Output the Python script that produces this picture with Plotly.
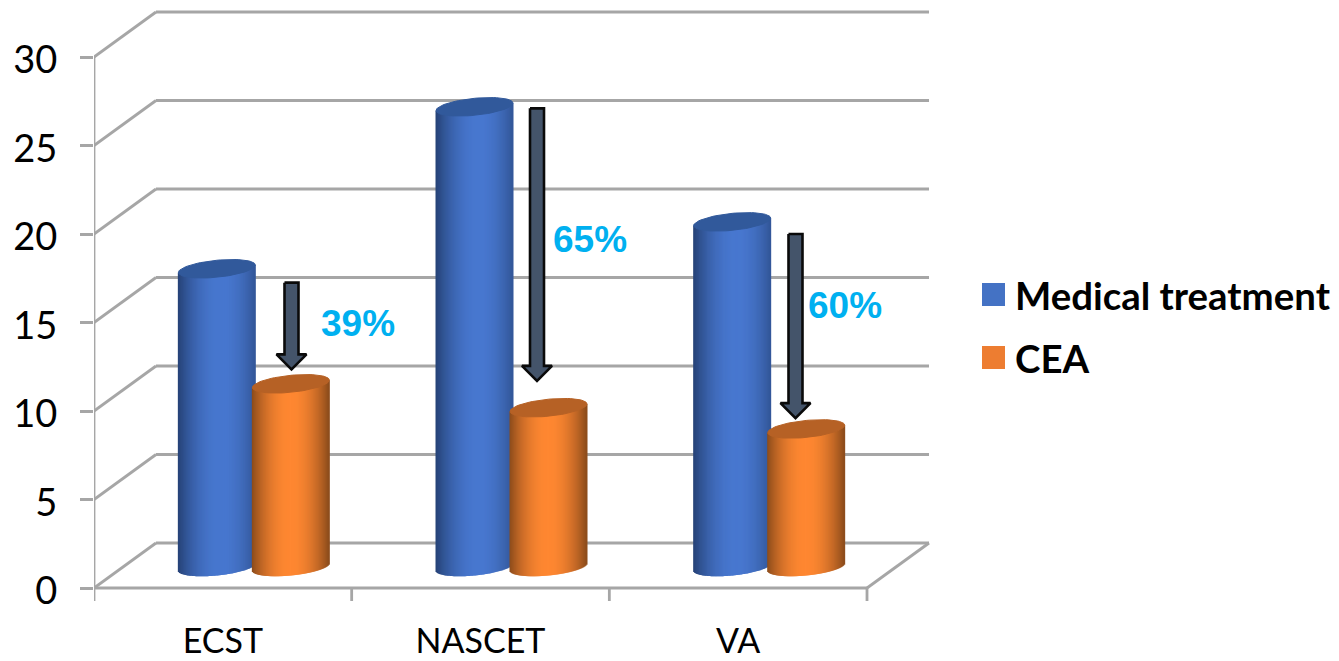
import numpy as np
import plotly.graph_objects as go

categories = ["ECST", "NASCET", "VA"]
medical = [16.85, 26.0, 19.5]
cea = [10.35, 9.0, 7.8]
reductions = ["39%", "65%", "60%"]
arrow_start = [17.25, 27.1, 20.0]
arrow_tip = [12.35, 11.7, 9.6]
y_ticks = [0, 5, 10, 15, 20, 25, 30]

# the page puts the figure 8 px in from its top-left corner
PAGE = 8
W, H = 1339 - PAGE, 661 - PAGE
IMG_X0, IMG_Y0 = 94, 588
PX0, PY0 = IMG_X0 - PAGE, IMG_Y0 - PAGE
PXU, PYU = 257.67, 17.7
DX, DY = 62 / PXU, 45 / PYU
GRID = "#a6a6a6"
XMAX = (W - PX0) / PXU
YMAX = PY0 / PYU
YMIN = -16 / PYU
BOTTOM = H - (PY0 + 16)


def xw(px):
    return px / PXU


def yw(px):
    return px / PYU


def px_x(px):
    return (px - PAGE - PX0) / (W - PX0)


def px_y(py):
    return 1 - (py - PAGE) / (H - BOTTOM)


fig = go.Figure()

shapes = []


def seg(x0, y0, x1, y1):
    shapes.append(dict(type="line", xref="x", yref="y", x0=x0, y0=y0, x1=x1, y1=y1,
                       line=dict(color=GRID, width=2.8), layer="below"))


for t in y_ticks:
    seg(0, t, DX, t + DY)
    seg(DX, t + DY, 3 + DX, t + DY)
seg(0, 0, 0, 30)
seg(0, 0, 3, 0)
seg(3, 0, 3 + DX, DY)
for i in range(4):
    seg(i, 0, i, -13 / PYU)

RX, RY, SKEW = xw(38.5), yw(8.5), yw(3.7)
MID_X, MID_Y = DX / 2, yw(21)
OFFSET = xw(37)
STRIPS = 77


def mix(a, b, f):
    return "rgb(%d,%d,%d)" % tuple(a[k] + (b[k] - a[k]) * f for k in range(3))


def cylinder(cx, value, edge, centre, cap, name, peak):
    u = np.linspace(-1, 1, STRIPS * 2 + 1)[1::2]
    strip = 2 * RX / STRIPS
    low = MID_Y + SKEW * u - RY * np.sqrt(1 - u ** 2)
    top = MID_Y + value + SKEW * u
    colors = [mix(edge, centre, max(0, 1 - (abs(v - peak) / (1 + abs(peak))) ** 2.0)) for v in u]
    fig.add_trace(go.Bar(x=cx + u * RX, y=top - low, base=low, width=strip * 2,
                         marker=dict(color=colors, line=dict(width=0)),
                         name=name, showlegend=False, hoverinfo="skip"))
    return cx, value, cap


caps = []
for i in range(len(categories)):
    c = i + 0.5 + MID_X
    caps.append(cylinder(c - OFFSET, medical[i], (38, 66, 118), (72, 120, 208), "#31599b", "Medical treatment", 0.12))
for i in range(len(categories)):
    c = i + 0.5 + MID_X
    caps.append(cylinder(c + OFFSET, cea[i], (140, 76, 28), (255, 136, 50), "#b66125", "CEA", 0.0))

tt = np.linspace(0, 2 * np.pi, 73)
for cx, value, cap in caps:
    fig.add_trace(go.Scatter(
        x=cx + RX * np.cos(tt),
        y=MID_Y + value + SKEW * np.cos(tt) + RY * np.sin(tt),
        mode="lines", fill="toself", fillcolor=cap,
        line=dict(color=cap, width=1), showlegend=False, hoverinfo="skip"))

SHAFT, HEAD, HEAD_LEN = xw(7), xw(15), yw(15)
arrow_x = [xw(291.5 - IMG_X0), xw(537 - IMG_X0), xw(795.5 - IMG_X0)]
for ax, s, e in zip(arrow_x, arrow_start, arrow_tip):
    fig.add_trace(go.Scatter(
        x=[ax - SHAFT, ax + SHAFT, ax + SHAFT, ax + HEAD, ax, ax - HEAD, ax - SHAFT, ax - SHAFT],
        y=[s, s, e + HEAD_LEN, e + HEAD_LEN, e, e + HEAD_LEN, e + HEAD_LEN, s],
        mode="lines", fill="toself", fillcolor="#44546a",
        line=dict(color="#0a0a0a", width=2.6), showlegend=False, hoverinfo="skip"))

annotations = []
for txt, px, py in zip(reductions, [358, 590, 845], [323, 239, 305]):
    annotations.append(dict(text="<b>%s</b>" % txt, xref="paper", yref="paper", x=px_x(px), y=px_y(py),
                            showarrow=False, xanchor="center", yanchor="middle",
                            font=dict(family="Liberation Sans", size=37, color="#00b0f0")))

for name, col, py in [("Medical treatment", "#4472c4", 295), ("CEA", "#ed7d31", 358)]:
    shapes.append(dict(type="rect", xref="paper", yref="paper",
                       x0=px_x(982), x1=px_x(1005), y0=px_y(py - 12), y1=px_y(py + 11),
                       fillcolor=col, line=dict(width=0)))
    annotations.append(dict(text="<b>%s</b>" % name, xref="paper", yref="paper", x=px_x(1013), y=px_y(py),
                            showarrow=False, xanchor="left", yanchor="middle",
                            font=dict(family="Lato", size=38.4, color="#000000")))

fig.update_layout(
    width=W, height=H, autosize=False, barmode="overlay",
    margin=dict(l=PX0, r=0, t=0, b=BOTTOM, pad=0),
    paper_bgcolor="white", plot_bgcolor="white", showlegend=False,
    shapes=shapes, annotations=annotations,
    font=dict(family="Lato", color="#000000"),
    xaxis=dict(range=[0, XMAX], tickmode="array", tickvals=[0.5, 1.5, 2.5], ticktext=categories,
               showgrid=False, zeroline=False, showline=False, ticks="", ticklabelstandoff=14,
               tickfont=dict(family="Lato", size=34, color="#000000")),
    yaxis=dict(range=[YMIN, YMAX], tickmode="array", tickvals=y_ticks,
               showgrid=False, zeroline=False, showline=False, ticks="outside", ticklen=13,
               tickcolor=GRID, tickwidth=2.5, ticklabelstandoff=15, ticklabelshift=3,
               tickfont=dict(family="Lato", size=38, color="#000000")),
)
fig.write_html("out.html")
